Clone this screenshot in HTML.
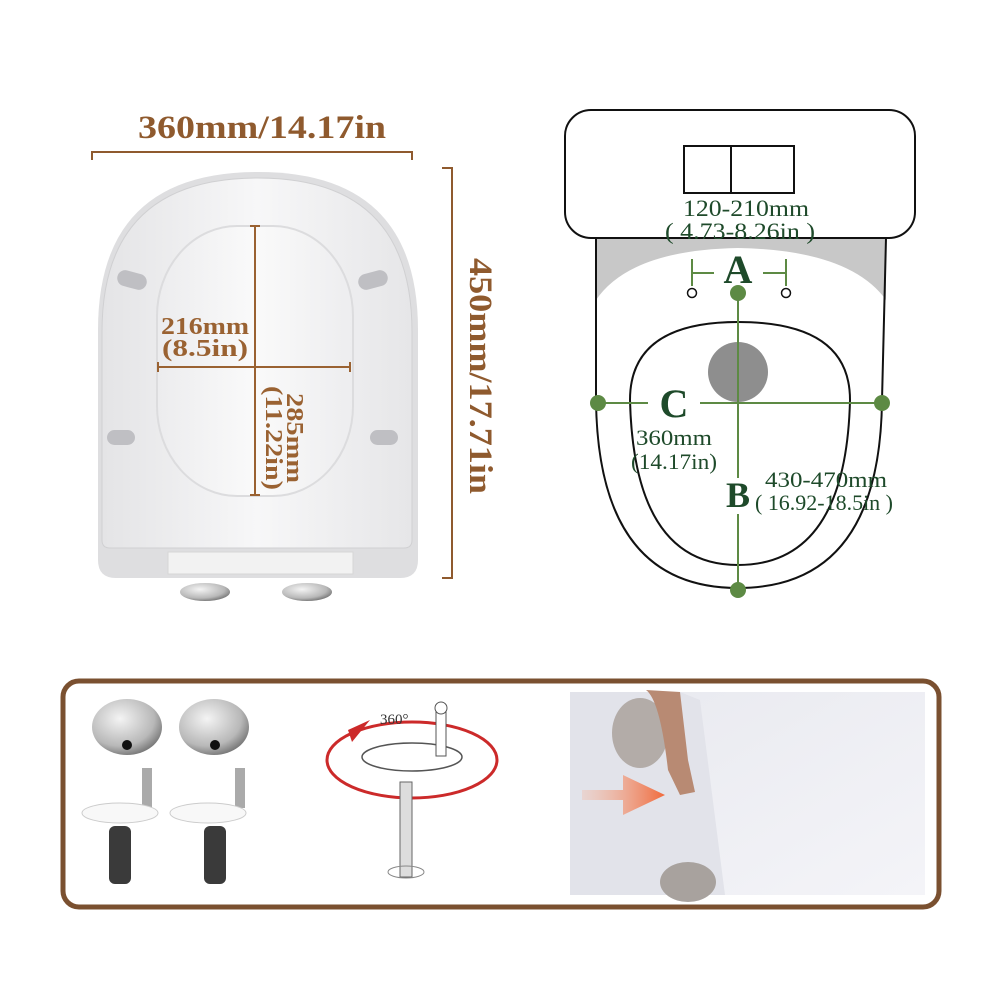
<!DOCTYPE html>
<html><head><meta charset="utf-8"><style>
html,body{margin:0;padding:0;background:#fff;}
svg{display:block;}
text{font-family:"Liberation Serif",serif;}
</style></head><body>
<svg width="1000" height="1000" viewBox="0 0 1000 1000" xmlns="http://www.w3.org/2000/svg">
<defs>
<linearGradient id="seat" x1="0" y1="0" x2="1" y2="0">
<stop offset="0" stop-color="#e4e4e6"/><stop offset="0.5" stop-color="#f7f7f8"/><stop offset="1" stop-color="#e6e6e8"/>
</linearGradient>
<linearGradient id="hole" x1="0" y1="0" x2="1" y2="0">
<stop offset="0" stop-color="#ececee"/><stop offset="0.5" stop-color="#fafafa"/><stop offset="1" stop-color="#ededef"/>
</linearGradient>
<radialGradient id="knob" cx="0.4" cy="0.35" r="0.7">
<stop offset="0" stop-color="#f4f4f4"/><stop offset="0.7" stop-color="#b8b8b8"/><stop offset="1" stop-color="#707070"/>
</radialGradient>
<linearGradient id="photo" x1="0" y1="0" x2="1" y2="1">
<stop offset="0" stop-color="#e8e9ef"/><stop offset="1" stop-color="#f4f4f8"/>
</linearGradient>
<linearGradient id="arrow" x1="0" y1="0" x2="1" y2="0">
<stop offset="0" stop-color="#f5b49a" stop-opacity="0.3"/><stop offset="1" stop-color="#f06a3c"/>
</linearGradient>
</defs>

<!-- LEFT: seat -->
<g stroke="#8f5a2e" stroke-width="2" fill="none">
<path d="M92 160 V152 H412 V160"/>
<path d="M442 168 H452 V578 H442"/>
</g>
<text x="262" y="138" font-size="33" font-weight="bold" fill="#8f5a2e" text-anchor="middle" textLength="248" lengthAdjust="spacingAndGlyphs">360mm/14.17in</text>
<text transform="translate(470,376) rotate(90)" font-size="33" font-weight="bold" fill="#8f5a2e" text-anchor="middle" textLength="236" lengthAdjust="spacingAndGlyphs">450mm/17.71in</text>

<path d="M98 560 V330 Q98 172 258 172 Q418 172 418 330 V560 Q418 578 400 578 H116 Q98 578 98 560Z" fill="#dedee0"/>
<path d="M102 540 V332 Q102 178 258 178 Q412 178 412 332 V540 Q412 548 404 548 H110 Q102 548 102 540Z" fill="url(#seat)" stroke="#d0d0d2" stroke-width="1"/>
<rect x="157" y="226" width="196" height="270" rx="80" ry="90" fill="url(#hole)" stroke="#dcdcde" stroke-width="2"/>
<g fill="#bfbfc3">
<rect x="117" y="272" width="30" height="16" rx="8" transform="rotate(15 132 280)"/>
<rect x="358" y="272" width="30" height="16" rx="8" transform="rotate(-15 373 280)"/>
<rect x="107" y="430" width="28" height="15" rx="7.5"/>
<rect x="370" y="430" width="28" height="15" rx="7.5"/>
</g>
<rect x="168" y="552" width="185" height="22" fill="#f2f2f2" stroke="#d6d6d6"/>
<g><ellipse cx="205" cy="592" rx="25" ry="9" fill="url(#knob)"/><ellipse cx="307" cy="592" rx="25" ry="9" fill="url(#knob)"/></g>

<g stroke="#9a6232" stroke-width="2">
<line x1="255" y1="226" x2="255" y2="495"/><line x1="250" y1="226" x2="260" y2="226"/><line x1="250" y1="495" x2="260" y2="495"/>
<line x1="158" y1="367" x2="350" y2="367"/><line x1="158" y1="362" x2="158" y2="372"/><line x1="350" y1="362" x2="350" y2="372"/>
</g>
<text x="205" y="334" font-size="24" font-weight="bold" fill="#9a6232" text-anchor="middle" textLength="88" lengthAdjust="spacingAndGlyphs">216mm</text>
<text x="205" y="356" font-size="24" font-weight="bold" fill="#9a6232" text-anchor="middle" textLength="86" lengthAdjust="spacingAndGlyphs">(8.5in)</text>
<text transform="translate(287,438) rotate(90)" font-size="24" font-weight="bold" fill="#9a6232" text-anchor="middle" textLength="90" lengthAdjust="spacingAndGlyphs">285mm</text>
<text transform="translate(266,438) rotate(90)" font-size="24" font-weight="bold" fill="#9a6232" text-anchor="middle" textLength="104" lengthAdjust="spacingAndGlyphs">(11.22in)</text>

<!-- RIGHT: toilet diagram -->
<path d="M596 238 H886 V300 Q850 250 738 248 Q630 250 596 300Z" fill="#c8c8c8"/>
<path d="M596 238 V400 Q598 588 738 588 Q880 588 882 400 L886 238" fill="none" stroke="#111" stroke-width="2"/>
<rect x="565" y="110" width="350" height="128" rx="26" fill="#fff" stroke="#111" stroke-width="2"/>
<rect x="684" y="146" width="110" height="47" fill="none" stroke="#111" stroke-width="2"/>
<line x1="731" y1="146" x2="731" y2="193" stroke="#111" stroke-width="2"/>
<path d="M738 322 Q850 322 850 400 Q846 565 738 565 Q634 565 630 400 Q630 322 738 322Z" fill="none" stroke="#111" stroke-width="2"/>
<circle cx="738" cy="372" r="30" fill="#8e8e8e"/>
<text x="746" y="216" font-size="23" fill="#1e4a2a" text-anchor="middle" textLength="126" lengthAdjust="spacingAndGlyphs">120-210mm</text>
<text x="740" y="239" font-size="23" fill="#1e4a2a" text-anchor="middle" textLength="150" lengthAdjust="spacingAndGlyphs">( 4.73-8.26in )</text>
<g stroke="#5d8a44" stroke-width="2" fill="none">
<line x1="692" y1="259" x2="692" y2="286"/><line x1="786" y1="259" x2="786" y2="286"/>
<line x1="692" y1="273" x2="714" y2="273"/><line x1="763" y1="273" x2="786" y2="273"/>
<line x1="738" y1="293" x2="738" y2="590"/>
<line x1="598" y1="403" x2="648" y2="403"/><line x1="700" y1="403" x2="882" y2="403"/>
</g>
<circle cx="692" cy="293" r="4.5" fill="#fff" stroke="#111" stroke-width="1.5"/>
<circle cx="786" cy="293" r="4.5" fill="#fff" stroke="#111" stroke-width="1.5"/>
<g fill="#5d8a44"><circle cx="738" cy="293" r="8"/><circle cx="598" cy="403" r="8"/><circle cx="882" cy="403" r="8"/><circle cx="738" cy="590" r="8"/></g>
<text x="738" y="283" font-size="40" font-weight="bold" fill="#1e4a2a" text-anchor="middle">A</text>
<text x="674" y="417" font-size="40" font-weight="bold" fill="#1e4a2a" text-anchor="middle">C</text>
<rect x="724" y="478" width="28" height="36" fill="#fff"/>
<text x="738" y="507" font-size="36" font-weight="bold" fill="#1e4a2a" text-anchor="middle">B</text>
<text x="674" y="445" font-size="22" fill="#1e4a2a" text-anchor="middle" textLength="76" lengthAdjust="spacingAndGlyphs">360mm</text>
<text x="674" y="469" font-size="22" fill="#1e4a2a" text-anchor="middle" textLength="86" lengthAdjust="spacingAndGlyphs">(14.17in)</text>
<text x="826" y="487" font-size="22" fill="#1e4a2a" text-anchor="middle" textLength="122" lengthAdjust="spacingAndGlyphs">430-470mm</text>
<text x="824" y="510" font-size="22" fill="#1e4a2a" text-anchor="middle" textLength="138" lengthAdjust="spacingAndGlyphs">( 16.92-18.5in )</text>

<!-- BOTTOM PANEL -->
<rect x="63" y="681" width="876" height="226" rx="16" fill="#fff" stroke="#7a5030" stroke-width="5"/>
<ellipse cx="127" cy="727" rx="35" ry="28" fill="url(#knob)"/><circle cx="127" cy="745" r="5" fill="#111"/>
<ellipse cx="214" cy="727" rx="35" ry="28" fill="url(#knob)"/><circle cx="215" cy="745" r="5" fill="#111"/>
<g>
<rect x="142" y="768" width="10" height="40" fill="#aaa"/><rect x="235" y="768" width="10" height="40" fill="#aaa"/>
<ellipse cx="120" cy="813" rx="38" ry="10" fill="#f8f8f8" stroke="#ccc"/>
<ellipse cx="208" cy="813" rx="38" ry="10" fill="#f8f8f8" stroke="#ccc"/>
<rect x="109" y="826" width="22" height="58" rx="6" fill="#3a3a3a"/>
<rect x="204" y="826" width="22" height="58" rx="6" fill="#3a3a3a"/>
</g>
<ellipse cx="412" cy="760" rx="85" ry="38" fill="none" stroke="#cc2a2a" stroke-width="3"/>
<polygon points="348,730 370,720 352,742" fill="#cc2a2a"/>
<ellipse cx="412" cy="757" rx="50" ry="14" fill="#fff" stroke="#555" stroke-width="1.5"/>
<rect x="436" y="710" width="10" height="46" fill="#fff" stroke="#555"/>
<circle cx="441" cy="708" r="6" fill="#fff" stroke="#555"/>
<rect x="400" y="782" width="12" height="95" fill="#ddd" stroke="#666"/>
<ellipse cx="406" cy="872" rx="18" ry="6" fill="none" stroke="#888"/>
<text x="380" y="724" font-family="Liberation Sans,sans-serif" font-size="15" fill="#333">360°</text>
<rect x="570" y="692" width="355" height="203" fill="url(#photo)"/>
<path d="M680 692 L700 700 L725 895 L570 895 L570 692Z" fill="#e2e3ea"/>
<ellipse cx="640" cy="733" rx="28" ry="35" fill="#b3aca8"/>
<ellipse cx="688" cy="882" rx="28" ry="20" fill="#a8a29e"/>
<path d="M646 690 Q660 700 668 770 L680 795 L695 792 L688 760 L680 692Z" fill="#b88a73"/>
<polygon points="582,790 623,790 623,775 665,795 623,815 623,800 582,800" fill="url(#arrow)"/>
</svg>
</body></html>
